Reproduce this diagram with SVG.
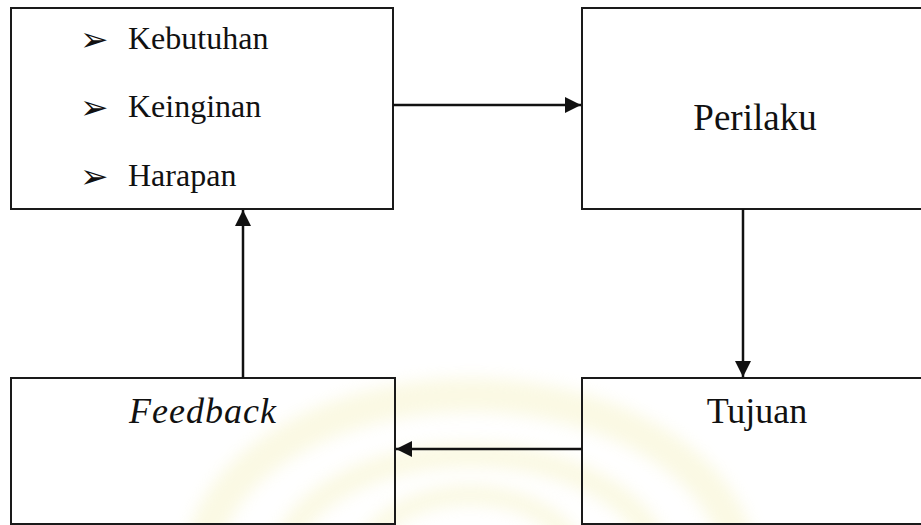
<svg xmlns="http://www.w3.org/2000/svg" width="921" height="525" viewBox="0 0 921 525">
  <style>
    .box { fill: none; stroke: #1a1a1a; stroke-width: 2; }
    .lbl { font-family: "Liberation Serif", "Times New Roman", serif; fill: #111; }
    .bul { font-family: "DejaVu Sans", sans-serif; font-size: 34px; fill: #111; }
    .conn { stroke: #111; stroke-width: 2.5; fill: none; }
  </style>
  <defs>
    <marker id="arrow" viewBox="0 0 10 10" refX="10" refY="5" markerWidth="6.5" markerHeight="6.5" markerUnits="strokeWidth" orient="auto">
      <path d="M0,0 L10,5 L0,10 Z" fill="#111"/>
    </marker>
    <filter id="soft" x="-20%" y="-20%" width="140%" height="140%">
      <feGaussianBlur stdDeviation="8"/>
    </filter>
  </defs>

  <rect width="921" height="525" fill="#ffffff"/>

  <!-- faint emblem in the background -->
  <g id="emblem" filter="url(#soft)" fill="none" stroke="#f3eeb0" opacity="0.35">
    <path d="M200,570 A270,175 0 0 1 740,570" stroke-width="34"/>
    <path d="M280,570 A190,115 0 0 1 660,570" stroke-width="24"/>
    <path d="M360,570 A110,75 0 0 1 580,570" stroke-width="20"/>
  </g>

  <!-- Needs / wants / hopes -->
  <g id="node-motives">
    <rect class="box" x="11" y="8" width="382" height="201"/>
    <text class="bul" x="80" y="51">➢</text>
    <text class="lbl" x="128" y="49" font-size="32">Kebutuhan</text>
    <text class="bul" x="80" y="119">➢</text>
    <text class="lbl" x="128" y="117" font-size="32">Keinginan</text>
    <text class="bul" x="80" y="188">➢</text>
    <text class="lbl" x="128" y="186" font-size="32">Harapan</text>
  </g>

  <g id="node-perilaku">
    <rect class="box" x="582" y="8" width="352" height="201"/>
    <text class="lbl" x="755" y="130" font-size="37" text-anchor="middle">Perilaku</text>
  </g>

  <g id="node-tujuan">
    <rect class="box" x="582" y="378" width="352" height="146"/>
    <text class="lbl" x="757" y="423" font-size="36" text-anchor="middle" fill="#222">Tujuan</text>
  </g>

  <g id="node-feedback">
    <rect class="box" x="11" y="378" width="384" height="146"/>
    <text class="lbl" x="203" y="423" font-size="36" font-style="italic" letter-spacing="1" text-anchor="middle" fill="#222">Feedback</text>
  </g>

  <g id="connectors">
    <line class="conn" x1="393" y1="105" x2="581" y2="105" marker-end="url(#arrow)"/>
    <line class="conn" x1="743" y1="209" x2="743" y2="377" marker-end="url(#arrow)"/>
    <line class="conn" x1="582" y1="449" x2="396" y2="449" marker-end="url(#arrow)"/>
    <line class="conn" x1="243" y1="378" x2="243" y2="210" marker-end="url(#arrow)"/>
  </g>
</svg>
